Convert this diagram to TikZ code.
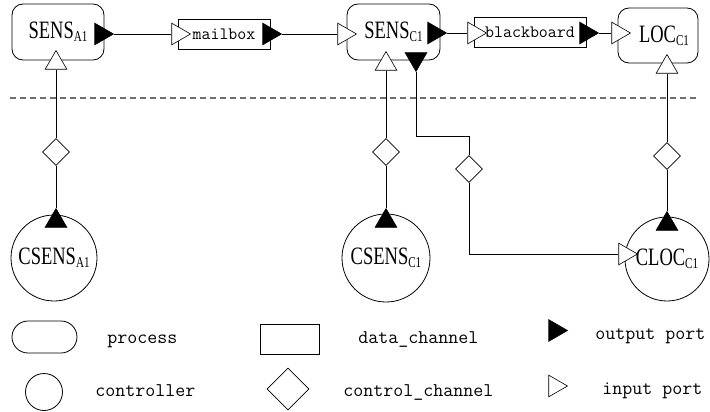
\documentclass[tikz,border=0pt]{standalone}
\usepackage{fontspec}
\setmainfont{Liberation Serif}
\newfontfamily\namefont[FakeStretch=0.74]{Liberation Serif}
\newfontfamily\monofont{Latin Modern Mono}
\usetikzlibrary{shapes.geometric}
\definecolor{dashgray}{RGB}{110,110,110}
\newcommand{\nm}[2]{{\namefont\fontsize{25}{25}\selectfont #1\raisebox{-3pt}{\fontsize{15}{15}\selectfont #2}}}
\newcommand{\chanfont}{\monofont\fontsize{17.4}{17.4}\selectfont}
\begin{document}
\begin{tikzpicture}[x=1pt,y=-1pt,line width=0.8pt,
  procbox/.style={draw,rounded corners=11pt,inner sep=0pt},
  chan/.style={draw,inner sep=0pt,minimum height=30pt},
  ctrl/.style={draw,circle,inner sep=0pt},
  cchan/.style={draw,diamond,aspect=1,inner sep=0pt,minimum size=27pt,fill=white,line width=0.6pt},
  outp/.style={regular polygon,regular polygon sides=3,draw,fill=black,inner sep=0pt,minimum size=25pt,line width=0.6pt},
  inp/.style={regular polygon,regular polygon sides=3,draw,fill=white,inner sep=0pt,minimum size=25pt,line width=0.6pt},
  wire/.style={draw,line width=0.8pt},
  sep/.style={draw=dashgray,line width=1.2pt,dash pattern=on 6pt off 4pt},
  legtext/.style={anchor=base west,font=\monofont\fontsize{19.4}{19.4}\selectfont,inner sep=0pt}]
\useasboundingbox (0,0) rectangle (710,412);

% separator
\coordinate (dl) at (10,98);
\coordinate (dr) at (698,98);
\draw[sep] (dl) -- (dr);

% processes
\node[procbox,minimum width=92pt,minimum height=56pt] (sensA) at (58,32) {\nm{SENS}{A1}};
\node[procbox,minimum width=93pt,minimum height=56pt] (sensC) at (393.5,32) {\nm{SENS}{C1}};
\node[procbox,minimum width=80pt,minimum height=55pt] (loc) at (658,35.5) {\hspace{12pt}\nm{LOC}{C1}};

% data channels
\node[chan,minimum width=92pt] (mail) at (224,34) {\chanfont mailbox};
\node[chan,minimum width=112pt] (black) at (530,32) {\chanfont blackboard};

% controllers
\node[ctrl,minimum size=86pt] (csA) at (54,258) {\nm{CSENS}{A1}};
\node[ctrl,minimum size=88pt] (csC) at (386,258) {\nm{CSENS}{C1}};
\node[ctrl,minimum size=84pt] (cloc) at (667,259) {\nm{CLOC}{C1}};

% ports
\node[outp,rotate=-90] (pAo) at (101,34) {};
\node[inp,rotate=-90] (pMi) at (178,34) {};
\node[outp,rotate=-90] (pMo) at (269,34) {};
\node[inp,rotate=-90] (pCi) at (344,34) {};
\node[outp,rotate=-90] (pCo) at (434,33) {};
\node[inp,rotate=-90] (pBi) at (474,33) {};
\node[outp,rotate=-90] (pBo) at (586,33) {};
\node[inp,rotate=-90] (pLi) at (618,33) {};

\node[inp] (pAci) at (56,63) {};
\node[inp] (pCci) at (386,64) {};
\node[outp,rotate=180] (pCco) at (416,59) {};
\node[inp] (pLci) at (667,67) {};
\node[outp] (pcsA) at (56,221) {};
\node[outp] (pcsC) at (386,221) {};
\node[outp] (pclo) at (667,224) {};
\node[inp,rotate=-90] (pcli) at (625,254) {};

% control channels
\node[cchan] (dA) at (56,152) {};
\node[cchan] (dC) at (386,152) {};
\node[cchan] (dX) at (469,169) {};
\node[cchan] (dL) at (667,156) {};

% data connectors
\draw[wire] (pAo) -- (pMi);
\draw[wire] (pMo) -- (pCi);
\draw[wire] (pCo) -- (pBi);
\draw[wire] (pBo) -- (pLi);

% control connectors
\draw[wire] (pAci) -- (dA);
\draw[wire] (dA) -- (pcsA);
\draw[wire] (pCci) -- (dC);
\draw[wire] (dC) -- (pcsC);
\draw[wire] (pLci) -- (dL);
\draw[wire] (dL) -- (pclo);
\coordinate (bend) at (469,136);
\draw[wire] (pCco) |- (bend) -- (dX);
\draw[wire] (dX) |- (pcli);

% legend
\node[procbox,rounded corners=16pt,minimum width=65pt,minimum height=32pt] (lp) at (44.5,337) {};
\node[legtext] (lpt) at (107,343) {process};
\node[ctrl,minimum size=37pt] (lc) at (44,392) {};
\node[legtext] (lct) at (95,396) {controller};
\node[chan,minimum width=59pt] (ld) at (289.5,339) {};
\node[legtext] (ldt) at (358,343) {data\_channel};
\node[cchan,minimum size=42pt] (lcc) at (288,389) {};
\node[legtext] (lcct) at (343,396.5) {control\_channel};
\node[outp,rotate=-90] (lo) at (555,330.5) {};
\node[legtext] (lot) at (595,339) {output port};
\node[inp,rotate=-90] (li) at (555,386) {};
\node[legtext] (lit) at (602,394) {input port};
\end{tikzpicture}
\end{document}
